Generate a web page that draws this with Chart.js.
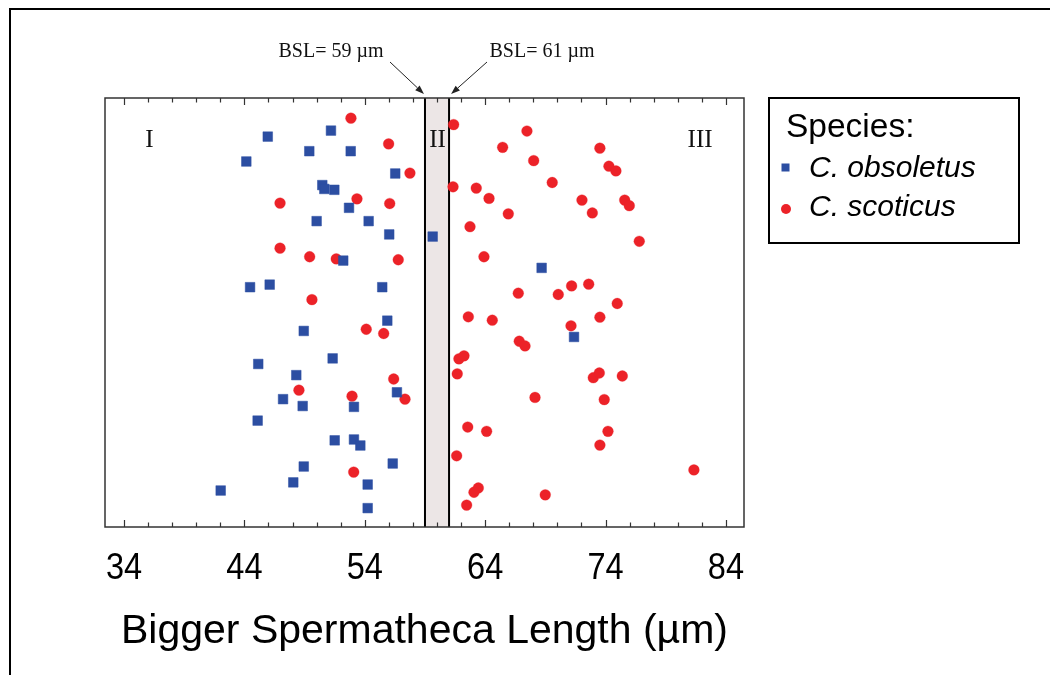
<!DOCTYPE html>
<html>
<head>
<meta charset="utf-8">
<script src="https://cdn.jsdelivr.net/npm/chart.js@4.4.1/dist/chart.umd.min.js"></script>
<style>
  html, body { margin: 0; padding: 0; background: #fff; }
  #wrap { width: 1050px; height: 675px; position: relative; }
  canvas { display: block; }
</style>
</head>
<body>
<div id="wrap"><canvas id="c" width="1050" height="675"></canvas></div>
<script>
// ---- Data (x = bigger spermatheca length in µm, y = vertical jitter 0-100) ----
const tickValues = [34, 44, 54, 64, 74, 84];
const tickLabels = ['34', '44', '54', '64', '74', '84'];
const bslThresholds = [59, 61];
const regionLabels = ['I', 'II', 'III'];
const seriesNames = ['C. obsoletus', 'C. scoticus'];

const obsoletusX = [51.19, 45.94, 49.39, 52.83, 44.16, 56.53, 50.47, 50.64, 51.47, 52.69,
                    50.00, 54.32, 56.03, 59.64, 52.21, 44.47, 46.10, 55.45, 68.69, 55.87,
                    48.93, 51.33, 45.15, 48.31, 56.67, 47.21, 48.84, 53.10, 45.10, 51.50,
                    53.10, 53.63, 48.93, 56.32, 48.06, 54.24, 42.03, 54.24, 71.38];
const obsoletusY = [92.4, 91.0, 87.6, 87.6, 85.2, 82.4, 79.7, 78.8, 78.6, 74.4,
                    71.3, 71.3, 68.2, 67.7, 62.1, 55.9, 56.5, 55.9, 60.4, 48.1,
                    45.7, 39.3, 38.0, 35.4, 31.4, 29.8, 28.2, 28.0, 24.8, 20.2,
                    20.4, 19.0, 14.1, 14.8, 10.4, 9.9, 8.5, 4.4, 44.3];

const scoticusX = [52.85, 55.98, 57.75, 53.35, 46.96, 56.07, 46.96, 49.42, 51.63, 56.78,
                   49.61, 61.38, 67.47, 65.45, 73.53, 68.03, 74.28, 74.86, 61.33, 63.26,
                   69.57, 64.32, 72.04, 75.59, 75.97, 65.92, 72.90, 62.74, 76.80, 63.90,
                   66.75, 70.07, 71.18, 72.60, 74.97, 54.12, 55.57, 56.40, 48.53, 52.94,
                   57.34, 53.08, 62.60, 64.59, 71.13, 73.53, 66.83, 67.31, 61.82, 62.24,
                   61.68, 72.98, 73.48, 75.39, 68.14, 73.89, 62.55, 64.12, 74.20, 73.53,
                   61.63, 81.34, 63.43, 63.07, 68.99, 62.46];
const scoticusY = [95.3, 89.3, 82.5, 76.5, 75.5, 75.4, 65.0, 63.0, 62.5, 62.3,
                   53.0, 93.8, 92.3, 88.5, 88.3, 85.4, 84.1, 83.0, 79.3, 79.0,
                   80.3, 76.6, 76.2, 76.2, 74.9, 73.0, 73.2, 70.0, 66.6, 63.0,
                   54.5, 54.2, 56.2, 56.6, 52.1, 46.1, 45.1, 34.5, 31.9, 30.5,
                   29.8, 12.8, 49.0, 48.2, 46.9, 48.9, 43.3, 42.2, 39.2, 39.9,
                   35.7, 34.8, 35.9, 35.2, 30.2, 29.7, 23.3, 22.3, 22.3, 19.1,
                   16.6, 13.3, 9.1, 8.1, 7.5, 5.1];

const zip = (xs, ys) => xs.map((x, i) => ({ x: x, y: ys[i] }));

const BLUE = '#2c4ea2';
const RED = '#ec2228';
const SANS = '"Liberation Sans", Arial, sans-serif';
const SERIF = '"Liberation Serif", "Times New Roman", serif';

const decorPlugin = {
  id: 'decor',
  beforeDraw(chart) {
    const ctx = chart.ctx;
    ctx.save();
    ctx.fillStyle = '#fff';
    ctx.fillRect(0, 0, chart.width, chart.height);
    // outer frame (top & left)
    ctx.strokeStyle = '#000';
    ctx.lineWidth = 2;
    ctx.beginPath();
    ctx.moveTo(10, 675);
    ctx.lineTo(10, 9);
    ctx.lineTo(1050, 9);
    ctx.stroke();
    ctx.restore();
  },
  beforeDatasetsDraw(chart) {
    const ctx = chart.ctx, a = chart.chartArea, xs = chart.scales.x;
    const x1 = xs.getPixelForValue(bslThresholds[0]);
    const x2 = xs.getPixelForValue(bslThresholds[1]);
    ctx.save();
    ctx.fillStyle = '#ece6e6';
    ctx.fillRect(x1, a.top, x2 - x1, a.bottom - a.top);
    ctx.strokeStyle = '#000';
    ctx.lineWidth = 2;
    ctx.beginPath();
    ctx.moveTo(x1, a.top); ctx.lineTo(x1, a.bottom);
    ctx.moveTo(x2, a.top); ctx.lineTo(x2, a.bottom);
    ctx.stroke();
    ctx.restore();
  },
  afterDraw(chart) {
    const ctx = chart.ctx, a = chart.chartArea, xs = chart.scales.x, ys = chart.scales.y;
    ctx.save();
    // plot frame
    ctx.strokeStyle = '#333';
    ctx.lineWidth = 1.5;
    ctx.strokeRect(a.left, a.top, a.right - a.left, a.bottom - a.top);
    // inward ticks, top and bottom
    ctx.lineWidth = 1.2;
    ctx.beginPath();
    for (let v = tickValues[0]; v <= tickValues[tickValues.length - 1]; v += 2) {
      const px = Math.round(xs.getPixelForValue(v)) + 0.5;
      const len = tickValues.includes(v) ? 7 : 4.5;
      ctx.moveTo(px, a.bottom); ctx.lineTo(px, a.bottom - len);
      ctx.moveTo(px, a.top); ctx.lineTo(px, a.top + len);
    }
    ctx.stroke();

    // tick labels (slightly condensed numerals)
    ctx.fillStyle = '#000';
    ctx.font = '37px ' + SANS;
    ctx.textAlign = 'center';
    ctx.textBaseline = 'alphabetic';
    tickValues.forEach((v, i) => {
      ctx.save();
      ctx.translate(xs.getPixelForValue(v), 579);
      ctx.scale(0.88, 1);
      ctx.fillText(tickLabels[i], 0, 0);
      ctx.restore();
    });

    // region labels
    ctx.fillStyle = '#111';
    ctx.font = '25px ' + SERIF;
    const ry = ys.getPixelForValue(88.6);
    ctx.fillText(regionLabels[0], xs.getPixelForValue(36.1), ry);
    ctx.fillText(regionLabels[1], xs.getPixelForValue(60.05), ry);
    ctx.fillText(regionLabels[2], xs.getPixelForValue(81.85), ry);

    // BSL annotations
    ctx.font = '20px ' + SERIF;
    ctx.fillStyle = '#111';
    ctx.fillText('BSL= ' + bslThresholds[0] + ' µm', 331, 57);
    ctx.fillText('BSL= ' + bslThresholds[1] + ' µm', 542, 57);
    const arrow = (x0, y0, x1, y1) => {
      const ang = Math.atan2(y1 - y0, x1 - x0);
      const hl = 9, hw = 3.2;
      const bx = x1 - hl * Math.cos(ang), by = y1 - hl * Math.sin(ang);
      ctx.strokeStyle = '#222';
      ctx.lineWidth = 1;
      ctx.beginPath(); ctx.moveTo(x0, y0); ctx.lineTo(bx, by); ctx.stroke();
      ctx.fillStyle = '#222';
      ctx.beginPath();
      ctx.moveTo(x1, y1);
      ctx.lineTo(bx + hw * Math.sin(ang), by - hw * Math.cos(ang));
      ctx.lineTo(bx - hw * Math.sin(ang), by + hw * Math.cos(ang));
      ctx.closePath(); ctx.fill();
    };
    arrow(390, 62, xs.getPixelForValue(bslThresholds[0]) - 1, a.top - 4);
    arrow(487, 62, xs.getPixelForValue(bslThresholds[1]) + 2, a.top - 4);

    // legend box
    ctx.strokeStyle = '#000';
    ctx.lineWidth = 2;
    ctx.strokeRect(769, 98, 250, 145);
    ctx.textAlign = 'left';
    ctx.fillStyle = '#000';
    ctx.font = '33.5px ' + SANS;
    ctx.fillText('Species:', 786, 137);
    ctx.font = 'italic 30px ' + SANS;
    const ds = chart.data.datasets;
    // item 1: square
    ctx.fillStyle = ds[0].backgroundColor;
    ctx.fillRect(781.5, 163.5, 8, 8);
    ctx.fillStyle = '#000';
    ctx.fillText(ds[0].label, 809, 177);
    // item 2: circle
    ctx.fillStyle = ds[1].backgroundColor;
    ctx.beginPath(); ctx.arc(786, 209, 5, 0, Math.PI * 2); ctx.fill();
    ctx.fillStyle = '#000';
    ctx.fillText(ds[1].label, 809, 216);
    ctx.restore();
  }
};

new Chart(document.getElementById('c'), {
  type: 'scatter',
  data: {
    datasets: [
      {
        label: seriesNames[0],
        data: zip(obsoletusX, obsoletusY),
        pointStyle: 'rect',
        pointRadius: 6.8,
        backgroundColor: BLUE,
        borderColor: BLUE,
        borderWidth: 0.5
      },
      {
        label: seriesNames[1],
        data: zip(scoticusX, scoticusY),
        pointStyle: 'circle',
        pointRadius: 5.4,
        backgroundColor: RED,
        borderColor: RED,
        borderWidth: 0.3
      }
    ]
  },
  options: {
    responsive: false,
    animation: false,
    devicePixelRatio: 1,
    layout: { padding: { left: 105, right: 306, top: 98, bottom: 0 } },
    plugins: { legend: { display: false }, tooltip: { enabled: false } },
    scales: {
      x: {
        type: 'linear',
        min: 32.42,
        max: 85.5,
        afterBuildTicks: (s) => { s.ticks = tickValues.map(v => ({ value: v })); },
        afterFit: (s) => { s.height = 148; },
        grid: { display: false, drawTicks: false },
        border: { display: false },
        ticks: {
          display: false,
          maxRotation: 0,
          autoSkip: false,
          callback: (v) => tickLabels[tickValues.indexOf(v)] ?? ''
        },
        title: {
          display: true,
          text: 'Bigger Spermatheca Length (µm)',
          color: '#000',
          font: { family: SANS, size: 41 },
          padding: { top: 0, bottom: 19 }
        }
      },
      y: { display: false, min: 0, max: 100 }
    }
  },
  plugins: [decorPlugin]
});
</script>
</body>
</html>
